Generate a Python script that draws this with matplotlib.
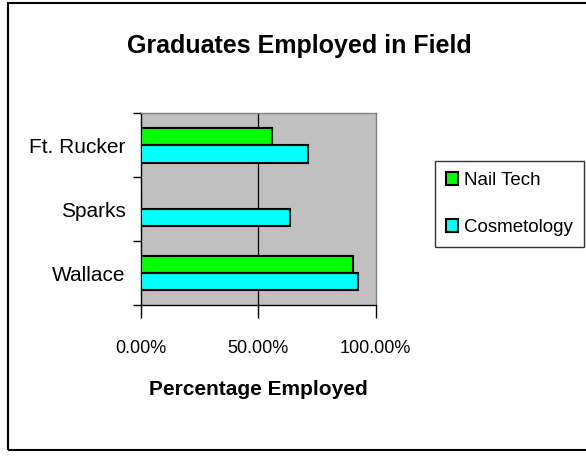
import matplotlib
matplotlib.use("Agg")
import matplotlib.pyplot as plt
import numpy as np
from matplotlib.patches import Rectangle
from matplotlib.ticker import FixedLocator, PercentFormatter

plt.rcParams['font.family'] = ['Liberation Sans Narrow', 'Liberation Sans', 'DejaVu Sans']

campuses = ["Wallace", "Sparks", "Ft. Rucker"]
nail_tech = [0.903, 0.0, 0.557]
cosmetology = [0.925, 0.637, 0.711]
series_names = ["Nail Tech", "Cosmetology"]
colors = ["#00FF00", "#00FFFF"]
title = "Graduates Employed in Field"
xlabel = "Percentage Employed"

fig = plt.figure(figsize=(5.86, 4.57), dpi=100)
fig.patches.append(Rectangle((8/586, 1-450/457), 2, 447/457, transform=fig.transFigure,
                             fill=False, edgecolor="black", linewidth=1.5, zorder=0))

ax = fig.add_axes([140.7/586, 1-305/457, 235/586, 191.7/457])
ax.set_facecolor("#C0C0C0")
y = np.arange(len(campuses))
h = 0.27
ax.barh(y + h/2, nail_tech, height=h, color=colors[0], edgecolor="black", linewidth=1.5,
        label=series_names[0], zorder=3)
ax.barh(y - h/2, cosmetology, height=h, color=colors[1], edgecolor="black", linewidth=1.5,
        label=series_names[1], zorder=3)

ax.set_xlim(0, 1)
ax.set_ylim(-0.5, 2.5)
ax.set_xticks([0, 0.5, 1])
ax.xaxis.set_major_formatter(PercentFormatter(1.0, decimals=2))
ax.axvline(0.5, color="black", linewidth=0.9, zorder=1)

ax.set_yticks([-0.5, 0.5, 1.5, 2.5])
ax.set_yticklabels([])
ax.yaxis.set_minor_locator(FixedLocator(y))
ax.set_yticks(y, minor=True)
ax.set_yticklabels(campuses, minor=True)
ax.tick_params(axis="y", which="minor", length=0, pad=11, labelsize=15)
ax.tick_params(axis="y", which="major", length=6, width=1, direction="out")
ax.tick_params(axis="x", which="major", length=9, width=1, direction="out", pad=16, labelsize=13)

for s in ["top", "right"]:
    ax.spines[s].set_color("#808080")
    ax.spines[s].set_linewidth(1)
for s in ["left", "bottom"]:
    ax.spines[s].set_color("black")
    ax.spines[s].set_linewidth(1)

ax.set_xlabel(xlabel, fontsize=15, fontweight="bold", labelpad=17)
fig.text(0.5 * (128 + 470) / 586, 1 - 46/457, title, ha="center", va="center",
         fontsize=18, fontweight="bold")

handles, labels = ax.get_legend_handles_labels()
leg = fig.legend(handles, labels, loc="upper left", bbox_to_anchor=(435/586, 1-160.7/457),
                 frameon=True, fancybox=False, edgecolor="black", fontsize=13.5,
                 handlelength=0.65, handleheight=0.65, handletextpad=0.3,
                 labelspacing=1.6, borderpad=0.6, borderaxespad=0)
leg.get_frame().set_linewidth(1)

fig.savefig("out.png", dpi=100)
